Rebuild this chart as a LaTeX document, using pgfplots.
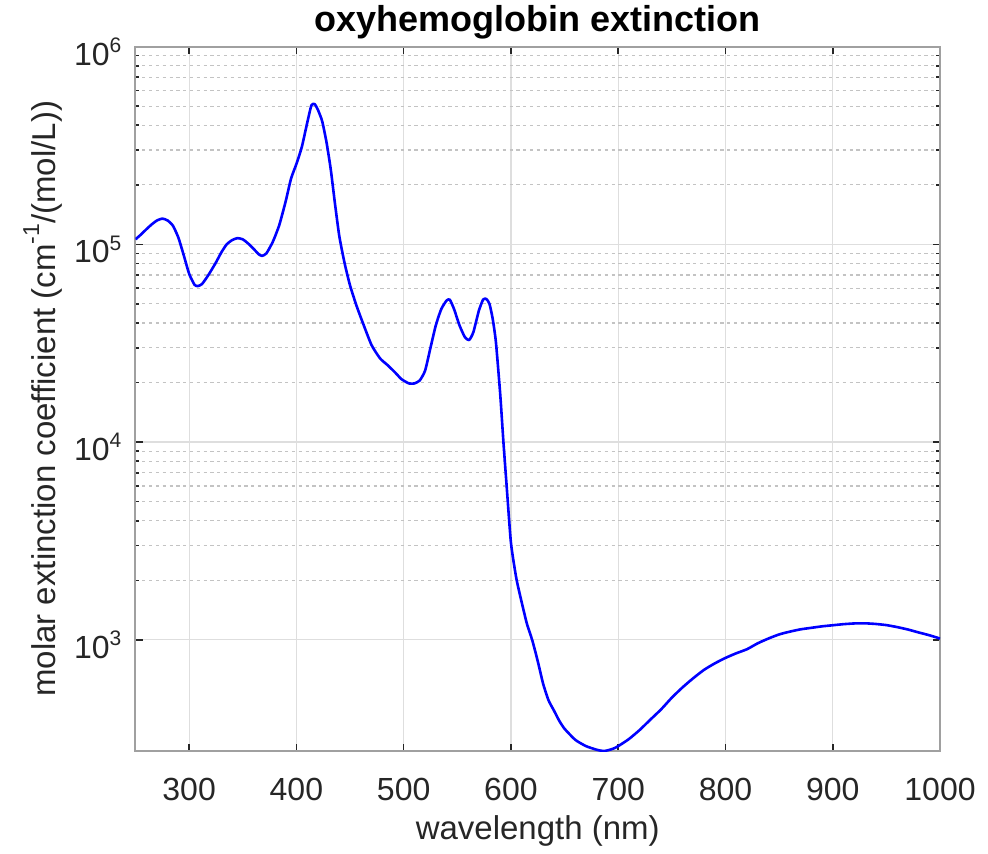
\documentclass[border=0pt]{standalone}
\usepackage{pgfplots}
\pgfplotsset{compat=1.18}
\usepackage{fontspec}
\setmainfont{Liberation Sans}

\definecolor{boxgray}{RGB}{160,160,160}
\definecolor{majgrid}{RGB}{222,222,222}
\definecolor{mingrid}{RGB}{195,195,195}
\definecolor{ticktext}{RGB}{38,38,38}

\newcommand\expo[1]{\raisebox{6.3pt}{\fontsize{10.5}{12}\selectfont #1}}

% oxyhemoglobin molar extinction
\pgfplotstableread{
nm    eps
250   106000
255   112000
260   119000
265   126000
270   132000
275   135000
280   132000
285   124000
290   108000
295   88000
300   71000
305   62500
308   61500
312   63000
318   70000
325   81000
330   91000
335   100000
340   105000
345   107500
350   106000
355   101000
360   95000
365   89000
368   87500
372   90000
378   103000
384   125000
390   165000
395   215000
400   255000
405   310000
410   410000
414   505000
417   512000
420   480000
424   420000
428   330000
432   240000
436   160000
440   110000
445   80000
450   62000
456   49000
462   40000
470   31000
478   26500
485   24500
492   22500
498   20800
505   19800
510   19800
515   20500
520   23000
525   30000
530   39000
535   47000
540   52000
543   52500
547   47000
552   39000
557   34000
561   32800
565   36000
570   46000
574   52500
577   53000
580   50000
583   42000
586   32000
590   17500
593   10000
596   6000
600   3100
605   2050
610   1550
615   1200
620   990
625   780
630   600
635   495
640   440
645   390
650   355
660   312
670   290
680   278
687   274
695   281
700   290
710   315
720   350
730   395
740   445
750   510
760   575
770   640
780   705
790   760
800   810
810   855
820   896
830   960
840   1015
850   1065
860   1100
870   1130
880   1150
890   1170
900   1185
910   1200
920   1210
930   1212
940   1203
950   1187
960   1160
970   1128
980   1090
990   1055
1000  1015
}\oxydata

\begin{document}
\begin{tikzpicture}
\path[use as bounding box] (-67.75pt,-51pt) rectangle (426.25pt,375.5pt);
\begin{axis}[
    scale only axis,
    width=402.25pt,
    height=352.2pt,
    ymode=log,
    xmin=250, xmax=1000,
    ymin=274, ymax=1e6,
    xtick={300,400,...,1000},
    ytick={1e3,1e4,1e5,1e6},
    yticklabels={10\expo{3},10\expo{4},10\expo{5},10\expo{6}},
    /pgf/number format/1000 sep={},
    /pgf/number format/assume math mode=true,
    tick align=inside,
    tick pos=both,
    major tick length=3.5pt,
    minor tick length=2pt,
    every tick/.style={black!85, line width=0.8pt},
    axis line style={boxgray, line width=1pt},
    xmajorgrids, ymajorgrids, yminorgrids,
    major grid style={majgrid, line width=0.6pt},
    minor grid style={mingrid, line width=0.6pt, dash pattern=on 1.6pt off 1.8pt},
    ticklabel style={font=\fontsize{16}{19}\selectfont, text=ticktext, inner sep=0pt},
    xticklabel style={anchor=base, yshift=-24.5pt},
    yticklabel style={anchor=base east, xshift=-6.9pt, yshift=-9.2pt},
    every axis title shift=0pt,
    title={oxyhemoglobin extinction},
    title style={font=\fontsize{18}{22}\selectfont\bfseries, at={(axis description cs:0.5,1.0213)}, anchor=base, inner sep=0pt},
    xlabel={wavelength (nm)},
    xlabel style={font=\fontsize{16.5}{20}\selectfont, text=ticktext, at={(axis description cs:0.5,-0.1263)}, anchor=base, inner sep=0pt},
    ylabel={molar extinction coefficient (cm\raisebox{0.5em}{\fontsize{11.5}{12}\selectfont -1}/(mol/L))},
    ylabel style={font=\fontsize{16.5}{20}\selectfont, text=ticktext, at={(axis description cs:-0.0994,0.5)}, anchor=base, inner sep=0pt},
]
\addplot[color={rgb,255:red,0;green,0;blue,255}, line width=1.3pt, line join=round, smooth, tension=0.35] table[x=nm, y=eps] {\oxydata};
\end{axis}
\end{tikzpicture}
\end{document}
